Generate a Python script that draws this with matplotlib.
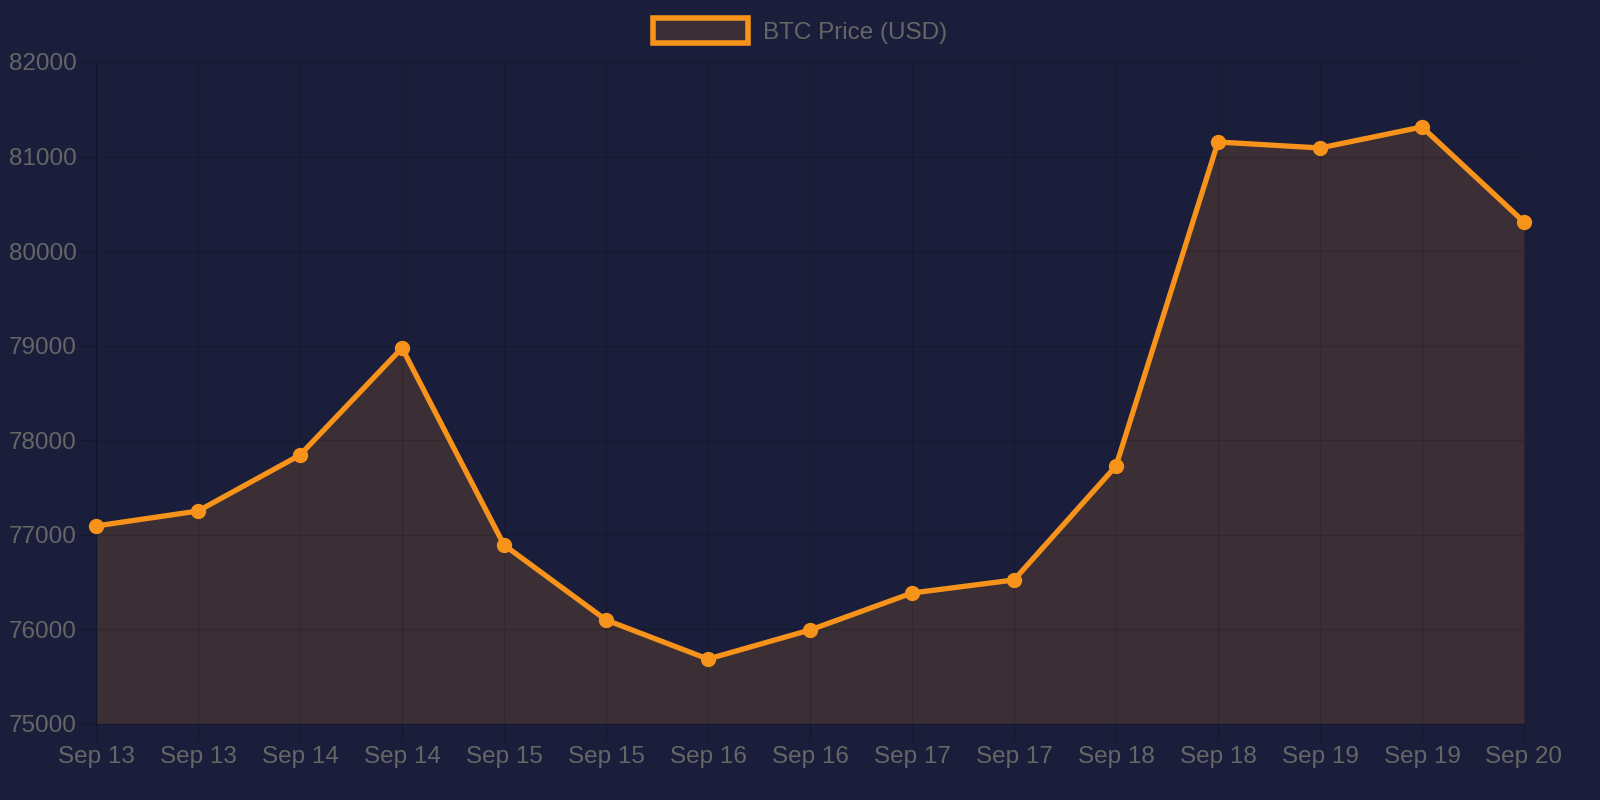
import matplotlib.pyplot as plt
from matplotlib.patches import Patch

BG = "#1a1e3b"
ORANGE = "#f7931a"
FILL = "#3b2e35"
GRID = "#000000"
TICK = "#151830"
TEXT = "#666666"

labels = ["Sep 13", "Sep 13", "Sep 14", "Sep 14", "Sep 15", "Sep 15", "Sep 16", "Sep 16",
          "Sep 17", "Sep 17", "Sep 18", "Sep 18", "Sep 19", "Sep 19", "Sep 20"]
prices = [77094, 77252, 77844, 78976, 76893, 76100, 75687, 75994,
          76385, 76523, 77728, 81154, 81091, 81313, 80308]
yticks = [75000, 76000, 77000, 78000, 79000, 80000, 81000, 82000]

plt.rcParams['font.family'] = ['Liberation Sans', 'DejaVu Sans']

fig = plt.figure(figsize=(16, 8), dpi=100, facecolor=BG)
ax = fig.add_axes([96/1600, 1 - 724/800, (1524-96)/1600, (724-62)/800])
ax.set_facecolor(BG)

x = list(range(len(prices)))
ax.fill_between(x, prices, 75000, color=FILL, zorder=1, linewidth=0)
ax.plot(x, prices, color=ORANGE, linewidth=3.8, marker="o", markersize=10,
        zorder=3, clip_on=False)

ax.set_xlim(0, len(prices) - 1)
ax.set_ylim(75000, 82000)
ax.set_xticks(x)
ax.set_xticklabels(labels)
ax.set_yticks(yticks)
ax.grid(True, color=GRID, alpha=0.13, linewidth=1)
ax.set_axisbelow(False)
for s in ax.spines.values():
    s.set_visible(False)
ax.spines["left"].set_visible(True)
ax.spines["left"].set_color(TICK)
ax.spines["bottom"].set_visible(True)
ax.spines["bottom"].set_color(TICK)
ax.tick_params(axis="both", colors=TICK, labelcolor=TEXT, labelsize=17.5,
               length=12, width=1)
ax.tick_params(axis="x", pad=4)
ax.tick_params(axis="y", pad=2)

leg_handle = Patch(facecolor=FILL, edgecolor=ORANGE, linewidth=4)
fig.legend([leg_handle], ["BTC Price (USD)"], loc="center", bbox_to_anchor=(0.5, 1 - 31/800),
           frameon=False, fontsize=17.5, labelcolor=TEXT, handlelength=3.9,
           handleheight=1.2, handletextpad=0.6)

fig.savefig("out.png", dpi=100, facecolor=BG)
